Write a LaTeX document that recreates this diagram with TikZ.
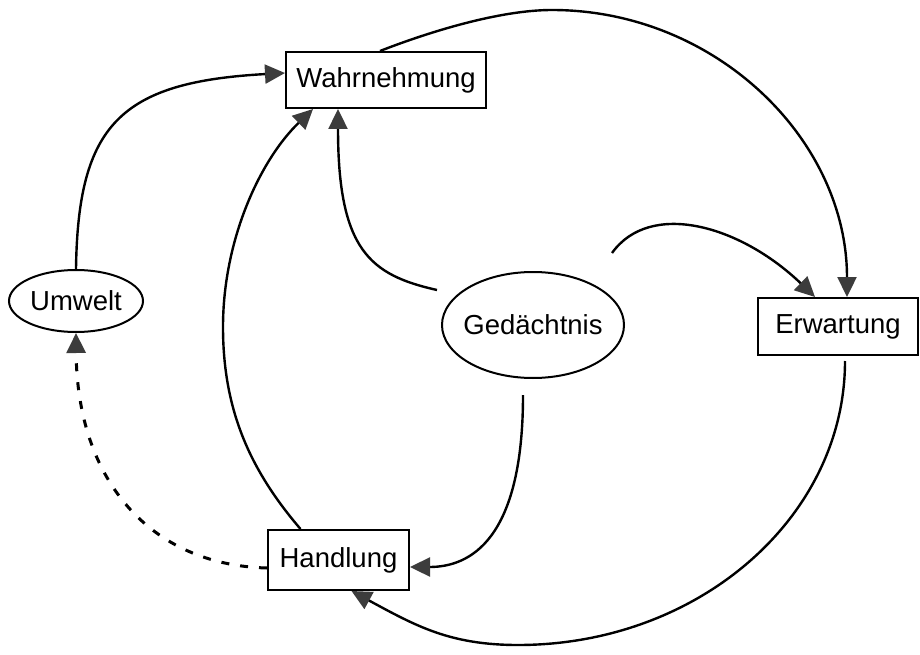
\documentclass[tikz,border=0pt]{standalone}
\usepackage{fontspec}
\setmainfont{Liberation Sans}
\usetikzlibrary{arrows.meta,shapes.geometric,calc}
\definecolor{tipgray}{HTML}{3C3C3C}
\begin{document}
\begin{tikzpicture}[x=1pt,y=-1pt,
  every node/.style={font=\fontsize{27.5}{33}\selectfont, inner sep=0pt, line width=2pt, draw=black},
  boxnode/.style={rectangle},
  ovalnode/.style={ellipse},
  conn/.style={line width=2.4pt, -{Triangle[length=20pt,width=19pt,fill=tipgray,color=tipgray]}},
  dashconn/.style={conn, dash pattern=on 8pt off 11pt, line width=3pt}]
\fill[white] (0,0) rectangle (920,655);
\useasboundingbox (0,0) rectangle (920,655);

\node[boxnode, minimum width=200pt, minimum height=56pt] (W) at (386,80) {Wahrnehmung};
\node[ovalnode, minimum width=134pt, minimum height=62pt] (U) at (76,301) {Umwelt};
\node[ovalnode, inner xsep=-25pt, minimum width=182pt, minimum height=106pt] (G) at (533,325) {Gedächtnis};
\node[boxnode, minimum width=160pt, minimum height=57pt] (E) at (838,326.5) {Erwartung};
\node[boxnode, minimum width=141pt, minimum height=60pt] (H) at (338.5,560) {Handlung};

\coordinate (gl) at ($(G.center)+(-96,-35)$);
\coordinate (gt) at ($(G.center)+(79,-72)$);
\coordinate (gb) at ($(G.center)+(-10,70)$);

% Umwelt -> Wahrnehmung
\draw[conn] (U.north) .. controls (78,125) and (120,82) .. ($(W.west)+(0,-7)$);
% Wahrnehmung -> Erwartung
\draw[conn] ($(W.north)+(-6,0)$) .. controls (430,31.5) and (500,10) .. (552,10)
  .. controls (715,10) and (847,139) .. ($(E.north)+(9,0)$);
% Erwartung -> Handlung
\draw[conn] ($(E.south)+(7,5)$) .. controls (845,517) and (699,645) .. (518,645)
  .. controls (450,645) and (416,626) .. ($(H.south)+(13,0)$);
% Handlung -> Wahrnehmung
\draw[conn] ($(H.north)+(-38,0)$) .. controls (250,470) and (223,410) .. (223,327)
  .. controls (223,240) and (260,160) .. ($(W.south)+(-73,0)$);
% Gedaechtnis -> Wahrnehmung
\draw[conn] (gl) .. controls (370,275) and (338,250) .. ($(W.south)+(-48,0)$);
% Gedaechtnis -> Erwartung
\draw[conn] (gt) .. controls (650,200) and (740,225) .. ($(E.north)+(-23,0)$);
% Gedaechtnis -> Handlung
\draw[conn] (gb) .. controls (523,540) and (470,567) .. ($(H.east)+(0,7)$);
% Handlung -> Umwelt (dashed)
\draw[dashconn] ($(H.west)+(0,8)$) .. controls (150,565) and (77,480) .. (U.south);
\end{tikzpicture}
\end{document}
